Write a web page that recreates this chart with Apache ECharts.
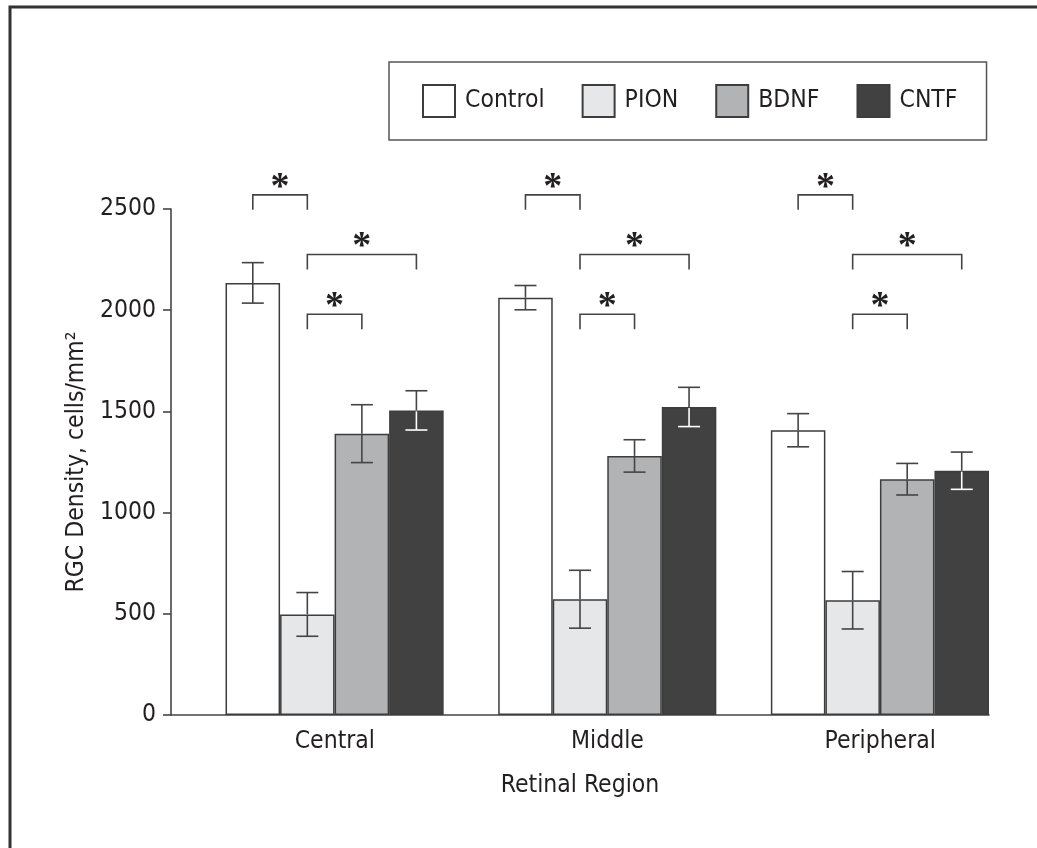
<!DOCTYPE html>
<html>
<head>
<meta charset="utf-8">
<script src="https://cdn.jsdelivr.net/npm/echarts@6/dist/echarts.min.js"></script>
<style>
html,body{margin:0;padding:0;background:#fff;}
#chart{width:1037px;height:848px;}
</style>
</head>
<body>
<div id="chart"></div>
<script>
// ---- data ----
const categories = ['Central', 'Middle', 'Peripheral'];
const seriesNames = ['Control', 'PION', 'BDNF', 'CNTF'];
const controlValues = [2135, 2062, 1407];
const pionValues = [497, 572, 567];
const bdnfValues = [1390, 1280, 1165];
const cntfValues = [1505, 1522, 1207];
const controlErr = [100, 60, 82];
const pionErr = [108, 143, 142];
const bdnfErr = [143, 80, 78];
const cntfErr = [97, 97, 92];
const yMin = 0, yMax = 2500, yInterval = 500;
// comparisons: [category index, from group index, to group index, bracket height]
const comparisons = [
  [0, 0, 1, 2570], [0, 1, 3, 2275], [0, 1, 2, 1980],
  [1, 0, 1, 2570], [1, 1, 3, 2275], [1, 1, 2, 1980],
  [2, 0, 1, 2570], [2, 1, 3, 2275], [2, 1, 2, 1980]
];
const comparisonLabel = '*';

// ---- styles ----
const FONT = "'Liberation Sans Narrow', 'DejaVu Sans Condensed', 'Roboto Condensed', sans-serif";
const FS = 24.5;
const TEXT = '#231f20';
const EDGE = '#3d3d3d';
const fills = ['#ffffff', '#e6e7e8', '#b2b3b5', '#414141'];
const allValues = [controlValues, pionValues, bdnfValues, cntfValues];
const allErr = [controlErr, pionErr, bdnfErr, cntfErr];
const SLOTS = 5; // one empty slot at left of each group, then 4 bars

const chart = echarts.init(document.getElementById('chart'), null, {renderer: 'canvas'});

const barSeries = seriesNames.map((name, s) => ({
  name: name,
  type: 'bar',
  data: allValues[s],
  barGap: '0%',
  barCategoryGap: '0%',
  itemStyle: {color: fills[s], borderColor: EDGE, borderWidth: 1.5},
  emphasis: {disabled: true},
  z: 2
}));

const errData = [];
seriesNames.forEach((n, s) => {
  categories.forEach((c, i) => errData.push([i, s, allValues[s][i], allErr[s][i]]));
});

function renderErr(params, api) {
  const cat = api.value(0), slot = api.value(1), v = api.value(2), e = api.value(3);
  const c = api.coord([cat, v]);
  const bw = api.size([1, 0])[0];
  const slotW = bw / SLOTS;
  const x = c[0] - bw / 2 + (slot + 1.5) * slotW;
  const yTop = api.coord([cat, v + e])[1];
  const yBot = api.coord([cat, v - e])[1];
  const yBar = c[1];
  const half = 11;
  const col = '#444';
  const lowCol = slot === 3 ? '#ffffff' : col;
  const st = (k) => ({stroke: k, lineWidth: 1.6});
  return {
    type: 'group',
    children: [
      {type: 'line', shape: {x1: x - half, y1: yTop, x2: x + half, y2: yTop}, style: st(col)},
      {type: 'line', shape: {x1: x, y1: yTop, x2: x, y2: yBar}, style: st(col)},
      {type: 'line', shape: {x1: x, y1: yBar + 1, x2: x, y2: yBot}, style: st(lowCol)},
      {type: 'line', shape: {x1: x - half, y1: yBot, x2: x + half, y2: yBot}, style: st(lowCol)}
    ]
  };
}

function renderBracket(params, api) {
  const cat = api.value(0), a = api.value(1), b = api.value(2), h = api.value(3);
  const c = api.coord([cat, h]);
  const bw = api.size([1, 0])[0];
  const slotW = bw / SLOTS;
  const start = c[0] - bw / 2;
  const xa = start + (a + 1.5) * slotW;
  const xb = start + (b + 1.5) * slotW;
  const y = c[1];
  const leg = 15;
  return {
    type: 'group',
    children: [
      {type: 'polyline', shape: {points: [[xa, y + leg], [xa, y], [xb, y], [xb, y + leg]]},
       style: {stroke: '#444', lineWidth: 1.6, fill: null}},
      {type: 'text', x: (xa + xb) / 2, y: y - 7,
       style: {text: comparisonLabel, fill: TEXT, font: "bold 38px 'Liberation Serif', 'DejaVu Serif', serif",
               align: 'center', verticalAlign: 'middle'}}
    ]
  };
}

const option = {
  animation: false,
  backgroundColor: '#ffffff',
  textStyle: {fontFamily: FONT, color: TEXT},
  graphic: [{
    type: 'rect', silent: true,
    shape: {x: 10, y: 7, width: 1100, height: 900},
    style: {fill: null, stroke: '#333', lineWidth: 3}
  }],
  legend: {
    data: seriesNames,
    left: 389, top: 62,
    orient: 'horizontal',
    itemWidth: 32, itemHeight: 32, itemGap: 37,
    padding: [22, 29, 22, 33],
    borderColor: '#555', borderWidth: 1.5,
    icon: 'rect',
    selectedMode: false,
    textStyle: {fontFamily: FONT, fontSize: FS, color: TEXT, padding: [0, 0, 0, 5]}
  },
  grid: {left: 171, right: 48, top: 209, bottom: 133},
  xAxis: {
    type: 'category',
    data: categories,
    boundaryGap: true,
    axisLine: {lineStyle: {color: '#444', width: 1.6}},
    axisTick: {show: false},
    axisLabel: {fontFamily: FONT, fontSize: FS, color: TEXT, margin: 14, padding: [0, 0, 0, 55]},
    name: 'Retinal Region',
    nameLocation: 'middle',
    nameGap: 58,
    nameTextStyle: {fontFamily: FONT, fontSize: FS, color: TEXT}
  },
  yAxis: {
    type: 'value',
    min: yMin, max: yMax, interval: yInterval,
    splitLine: {show: false},
    axisLine: {show: true, lineStyle: {color: '#444', width: 1.6}},
    axisTick: {show: true, length: 8, lineStyle: {color: '#444', width: 1.6}},
    axisLabel: {fontFamily: FONT, fontSize: FS, color: TEXT, margin: 15, formatter: (v) => String(v)},
    name: 'RGC Density, cells/mm²',
    nameLocation: 'middle',
    nameRotate: 90,
    nameGap: 82,
    nameMoveOverlap: false,
    nameTextStyle: {fontFamily: FONT, fontSize: FS, color: TEXT}
  },
  series: [
    {name: '_gap', type: 'bar', data: categories.map(() => null), barGap: '0%', barCategoryGap: '0%', silent: true},
    ...barSeries,
    {type: 'custom', renderItem: renderErr, data: errData, clip: false, z: 5, silent: true,
     encode: {x: 0, y: 2}},
    {type: 'custom', renderItem: renderBracket, data: comparisons, clip: false, z: 5, silent: true,
     encode: {x: 0, y: 3}}
  ]
};
chart.setOption(option);
</script>
</body>
</html>
